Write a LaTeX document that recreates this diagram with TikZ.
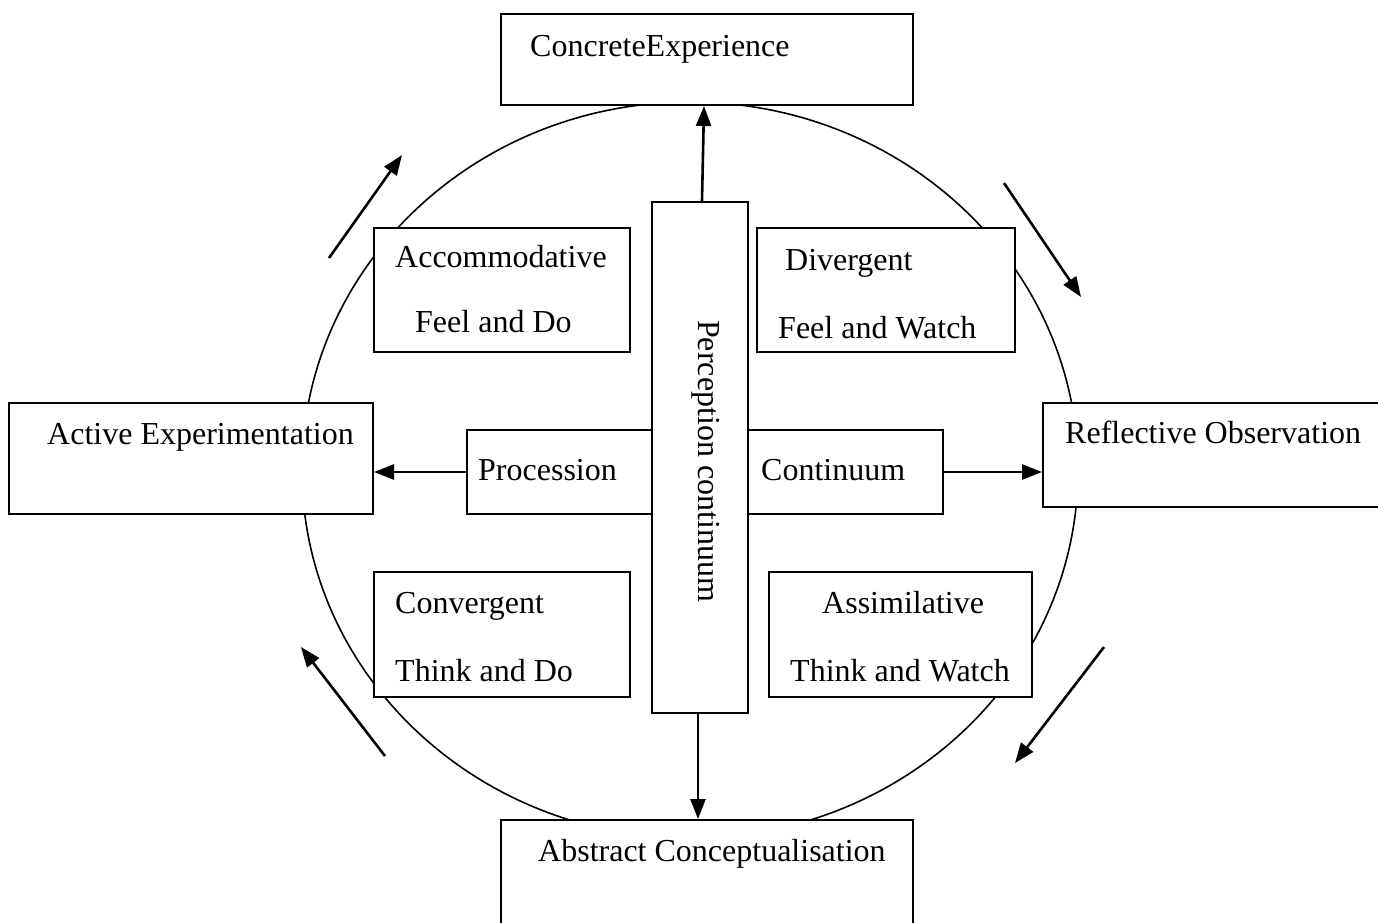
\documentclass[tikz,border=0pt]{standalone}
\usepackage{fontspec}
\setmainfont{Liberation Serif}
\usetikzlibrary{arrows.meta}
\begin{document}
\begin{tikzpicture}[x=1pt,y=-1pt,
  box/.style={draw,fill=white,line width=2pt,inner sep=0pt,rectangle},
  txt/.style={anchor=base west,inner sep=0pt,font=\fontsize{32}{38}\selectfont},
  arr/.style={line width=2.6pt,-{Triangle[length=20pt,width=15pt]}},
  circ/.style={line width=1.6pt}]
\useasboundingbox (0,0) rectangle (1378,922);
\clip (0,0) rectangle (1378,922);
\fill[white] (0,0) rectangle (1378,922);
% cycle ellipse
\draw[circ] (690,470) ellipse [x radius=388, y radius=368];
% boxes
\node[box,minimum width=412pt,minimum height=91pt] (conc) at (707,59.5) {};
\node[box,minimum width=412pt,minimum height=140pt] (abs) at (707,890) {};
\node[box,minimum width=364pt,minimum height=111pt] (act) at (191,458.5) {};
\node[box,minimum width=357pt,minimum height=104pt] (refl) at (1221.5,455) {};
\node[box,minimum width=256pt,minimum height=124pt] (acc) at (502,290) {};
\node[box,minimum width=258pt,minimum height=124pt] (div) at (886,290) {};
\node[box,minimum width=256pt,minimum height=125pt] (conv) at (502,634.5) {};
\node[box,minimum width=263pt,minimum height=125pt] (assim) at (900.5,634.5) {};
\node[box,minimum width=185pt,minimum height=84pt] (proc) at (559.5,472) {};
\node[box,minimum width=195pt,minimum height=84pt] (cont) at (845.5,472) {};
\node[box,minimum width=96pt,minimum height=511pt] (perc) at (700,457.5) {};
% texts
\node[txt] (tconc) at (530,56) {ConcreteExperience};
\node[txt] (tabs) at (538,861) {Abstract Conceptualisation};
\node[txt] (tact) at (47,444) {Active Experimentation};
\node[txt] (trefl) at (1065,443) {Reflective Observation};
\node[txt] (tacc1) at (395,267) {Accommodative};
\node[txt] (tacc2) at (415,332) {Feel and Do};
\node[txt] (tdiv1) at (785,270) {Divergent};
\node[txt] (tdiv2) at (778,338) {Feel and Watch};
\node[txt] (tproc) at (478,480) {Procession};
\node[txt] (tcont) at (761,480) {Continuum};
\node[txt] (tconv1) at (395,613) {Convergent};
\node[txt] (tconv2) at (395,681) {Think and Do};
\node[txt] (tass1) at (822,613) {Assimilative};
\node[txt] (tass2) at (790,681) {Think and Watch};
\node[inner sep=0pt,font=\fontsize{32}{38}\selectfont,rotate=-90,anchor=base] (tperc) at (698,461) {Perception continuum};
% connectors
\draw[arr] ([xshift=2pt]perc.north) -- ([xshift=-3pt]conc.south);
\draw[arr] ([xshift=-2pt]perc.south) -- ([xshift=-2pt]perc.south |- abs.north);
\draw[arr] (proc.west) -- (proc.west -| act.east);
\draw[arr] (cont.east) -- (cont.east -| refl.west);
% cycle arrows
\coordinate (a1s) at (329,258); \coordinate (a1e) at (402,155);
\coordinate (a2s) at (1004,183); \coordinate (a2e) at (1081,297);
\coordinate (a3s) at (1104,647); \coordinate (a3e) at (1015,763);
\coordinate (a4s) at (385,756); \coordinate (a4e) at (301,647);
\draw[arr] (a1s) -- (a1e);
\draw[arr] (a2s) -- (a2e);
\draw[arr] (a3s) -- (a3e);
\draw[arr] (a4s) -- (a4e);
\end{tikzpicture}
\end{document}
